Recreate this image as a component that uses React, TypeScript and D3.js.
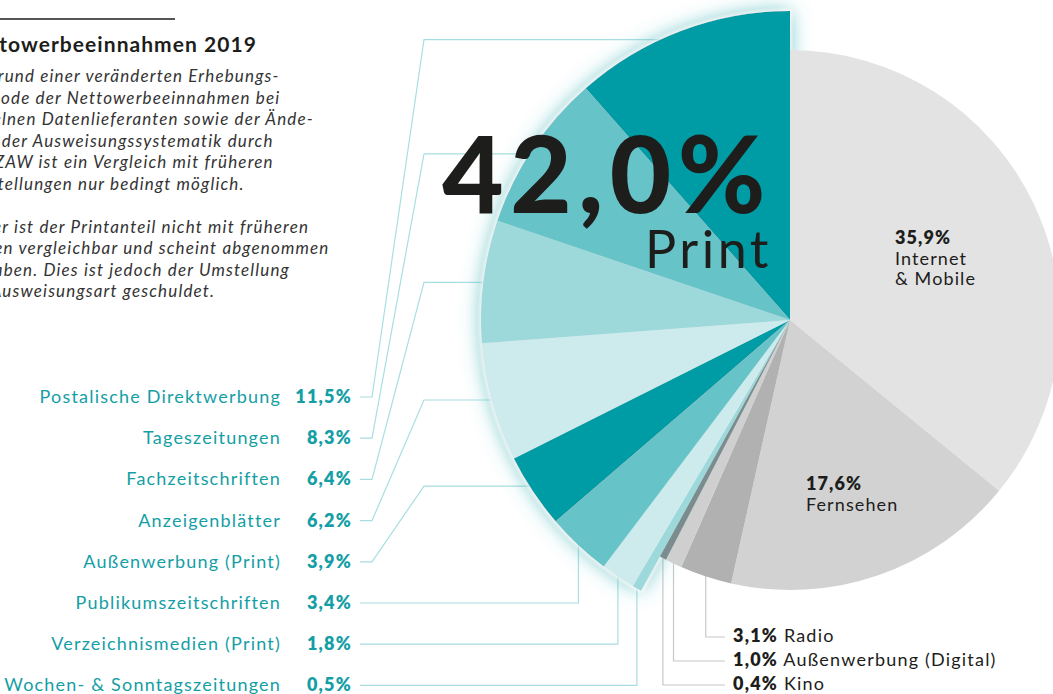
import React from 'react';
import * as d3 from 'd3';

// Werbeträger Print (Anteile in %), von 12 Uhr gegen den Uhrzeigersinn
const printLabels = [
  'Postalische Direktwerbung',
  'Tageszeitungen',
  'Fachzeitschriften',
  'Anzeigenblätter',
  'Außenwerbung (Print)',
  'Publikumszeitschriften',
  'Verzeichnismedien (Print)',
  'Wochen- & Sonntagszeitungen',
];
const printValues = [11.5, 8.3, 6.4, 6.2, 3.9, 3.4, 1.8, 0.5];
const printColors = ['#029ca6', '#66c3c7', '#9dd8db', '#cdebed', '#029ca6', '#66c3c7', '#cdebed', '#9dd8db'];

// übrige Medien, von 12 Uhr im Uhrzeigersinn
const otherLabels = ['Internet & Mobile', 'Fernsehen', 'Radio', 'Außenwerbung (Digital)', 'Kino'];
const otherValues = [35.9, 17.6, 3.1, 1.0, 0.4];
const otherColors = ['#e3e3e3', '#d2d2d2', '#b1b1b1', '#cfcfcf', '#7a8c8d'];

const printTotal = '42,0%';

const introLines = [
  'Aufgrund einer veränderten Erhebungs-',
  'methode der Nettowerbeeinnahmen bei',
  'einzelnen Datenlieferanten sowie der Ände-',
  'rung der Ausweisungssystematik durch',
  'den ZAW ist ein Vergleich mit früheren',
  'Darstellungen nur bedingt möglich.',
  '',
  'Daher ist der Printanteil nicht mit früheren',
  'Jahren vergleichbar und scheint abgenommen',
  'zu haben. Dies ist jedoch der Umstellung',
  'der Ausweisungsart geschuldet.',
];

const fmt = (v: number) => v.toFixed(1).replace('.', ',') + '%';

type Slice = { label: string; value: number; color: string; print: boolean; idx: number };

export default function App() {
  const width = 1053;
  const height = 694;
  const cx = 790;
  const cy = 320;
  const rPrint = 309;
  const rOther = 270;
  const font = 'Lato, "Open Sans", sans-serif';
  const teal = '#149ea5';
  const tealLine = '#a9dee1';
  const grayLine = '#c8c8c8';
  const ink = '#1d1d1b';

  const slices: Slice[] = [
    ...otherLabels.map((l, i) => ({ label: l, value: otherValues[i], color: otherColors[i], print: false, idx: i })),
    ...printLabels
      .map((l, i) => ({ label: l, value: printValues[i], color: printColors[i], print: true, idx: i }))
      .reverse(),
  ];

  const pie = d3.pie<Slice>().sort(null).value(d => d.value);
  const arcs = pie(slices);
  const arcGen = d3.arc<d3.PieArcDatum<Slice>>()
    .innerRadius(0)
    .outerRadius(d => (d.data.print ? rPrint : rOther));

  const mid = (a: d3.PieArcDatum<Slice>) => (a.startAngle + a.endAngle) / 2;
  const polar = (ang: number, r: number) => [cx + r * Math.sin(ang), cy - r * Math.cos(ang)];

  const printArcs = arcs.filter(a => a.data.print);
  const otherArcs = arcs.filter(a => !a.data.print);

  // Beschriftung links
  const rowY = d3.scaleLinear().domain([0, 1]).range([403, 444.2]);
  const nameX = 281;
  const valueX = 352;

  const line = d3.line();

  const leaderPaths = printArcs.map(a => {
    const i = a.data.idx;
    const yc = rowY(i) - 6;
    const m = mid(a);
    if (i < 5) {
      const [, ye] = polar(m, rPrint * 0.97);
      const [xi] = polar(m, rPrint * 0.7);
      return line([[360, yc], [372, yc], [424, ye], [xi, ye]]);
    }
    const [xe, ye] = polar(m, rPrint);
    return line([[360, yc], [xe, yc], [xe, ye - 8]]);
  });

  const grayRowY = d3.scaleLinear().domain([2, 3]).range([642, 666]);
  const grayLeaders = otherArcs.filter(a => a.data.idx >= 2).map(a => {
    const yc = grayRowY(a.data.idx) - 5;
    const [xe, ye] = polar(mid(a), rOther);
    return line([[xe, ye - 6], [xe, yc], [725, yc]]);
  });

  return (
    <div style={{ position: 'absolute', left: 0, top: 0 }}>
      <svg width={width} height={height} style={{ display: 'block', fontFamily: font }}>
        <defs>
          <filter id="glow" x="-20%" y="-20%" width="140%" height="140%">
            <feGaussianBlur in="SourceAlpha" stdDeviation="10" result="blur" />
            <feFlood floodColor="#4cb9be" floodOpacity="0.85" />
            <feComposite in2="blur" operator="in" result="tealGlow" />
            <feMorphology in="SourceAlpha" operator="dilate" radius="1" result="dil" />
            <feGaussianBlur in="dil" stdDeviation="1.5" result="dilBlur" />
            <feFlood floodColor="#ffffff" floodOpacity="0.7" />
            <feComposite in2="dilBlur" operator="in" result="whiteRim" />
            <feMerge>
              <feMergeNode in="tealGlow" />
              <feMergeNode in="whiteRim" />
              <feMergeNode in="SourceGraphic" />
            </feMerge>
          </filter>
        </defs>

        {/* Kopf */}
        <line x1={0} x2={175} y1={19} y2={19} stroke={ink} strokeWidth={1.5} />
        <text x={257} y={52} textAnchor="end" fontSize={21} fontWeight={700} fill={ink} letterSpacing={1.05}>
          Nettowerbeeinnahmen 2019
        </text>
        {introLines.map((t, i) => (
          <text key={i} x={-40} y={82 + i * 21.5} fontSize={17} fontStyle="italic" fill="#333" letterSpacing={1.15}>
            {t}
          </text>
        ))}

        {/* Führungslinien */}
        <g fill="none" strokeWidth={1.2}>
          {leaderPaths.map((d, i) => (
            <path key={i} d={d ?? ''} stroke={tealLine} />
          ))}
          {grayLeaders.map((d, i) => (
            <path key={i} d={d ?? ''} stroke={grayLine} />
          ))}
        </g>

        {/* Torte */}
        <g filter="url(#glow)">
          {printArcs.map((a, i) => (
            <path key={i} d={arcGen(a) ?? ''} transform={`translate(${cx},${cy})`} fill={a.data.color} />
          ))}
        </g>
        <g transform={`translate(${cx},${cy})`}>
          {otherArcs.map((a, i) => (
            <path key={i} d={arcGen(a) ?? ''} fill={a.data.color} />
          ))}
        </g>

        {/* Print-Summe */}
        <text x={772} y={213} textAnchor="end" fontSize={106} fontWeight={900} fill={ink} letterSpacing={6.5}>
          {printTotal}
        </text>
        <text x={772} y={268} textAnchor="end" fontSize={52} fontWeight={400} fill={ink} letterSpacing={3.5}>
          Print
        </text>

        {/* Beschriftung Print */}
        {printLabels.map((l, i) => (
          <g key={l}>
            <text x={nameX} y={rowY(i)} textAnchor="end" fontSize={18} fill={teal} letterSpacing={1.2}>
              {l}
            </text>
            <text x={valueX} y={rowY(i)} textAnchor="end" fontSize={18} fontWeight={800} fill={teal} letterSpacing={1.2}>
              {fmt(printValues[i])}
            </text>
          </g>
        ))}

        {/* Beschriftung große Segmente */}
        <text x={895} y={244} fontSize={18} fill={ink} letterSpacing={1.1}>
          <tspan fontWeight={800}>{fmt(otherValues[0])}</tspan>
          <tspan x={895} dy={20.5}>Internet</tspan>
          <tspan x={895} dy={20.5}>& Mobile</tspan>
        </text>
        <text x={806} y={490} fontSize={18} fill={ink} letterSpacing={1.1}>
          <tspan fontWeight={800}>{fmt(otherValues[1])}</tspan>
          <tspan x={806} dy={21}>{otherLabels[1]}</tspan>
        </text>

        {/* Beschriftung kleine Segmente */}
        {otherLabels.slice(2).map((l, j) => (
          <text key={l} x={733} y={grayRowY(j + 2)} fontSize={18} fill={ink} letterSpacing={1.2}>
            <tspan fontWeight={800}>{fmt(otherValues[j + 2])}</tspan>
            <tspan> {l}</tspan>
          </text>
        ))}
      </svg>
    </div>
  );
}
